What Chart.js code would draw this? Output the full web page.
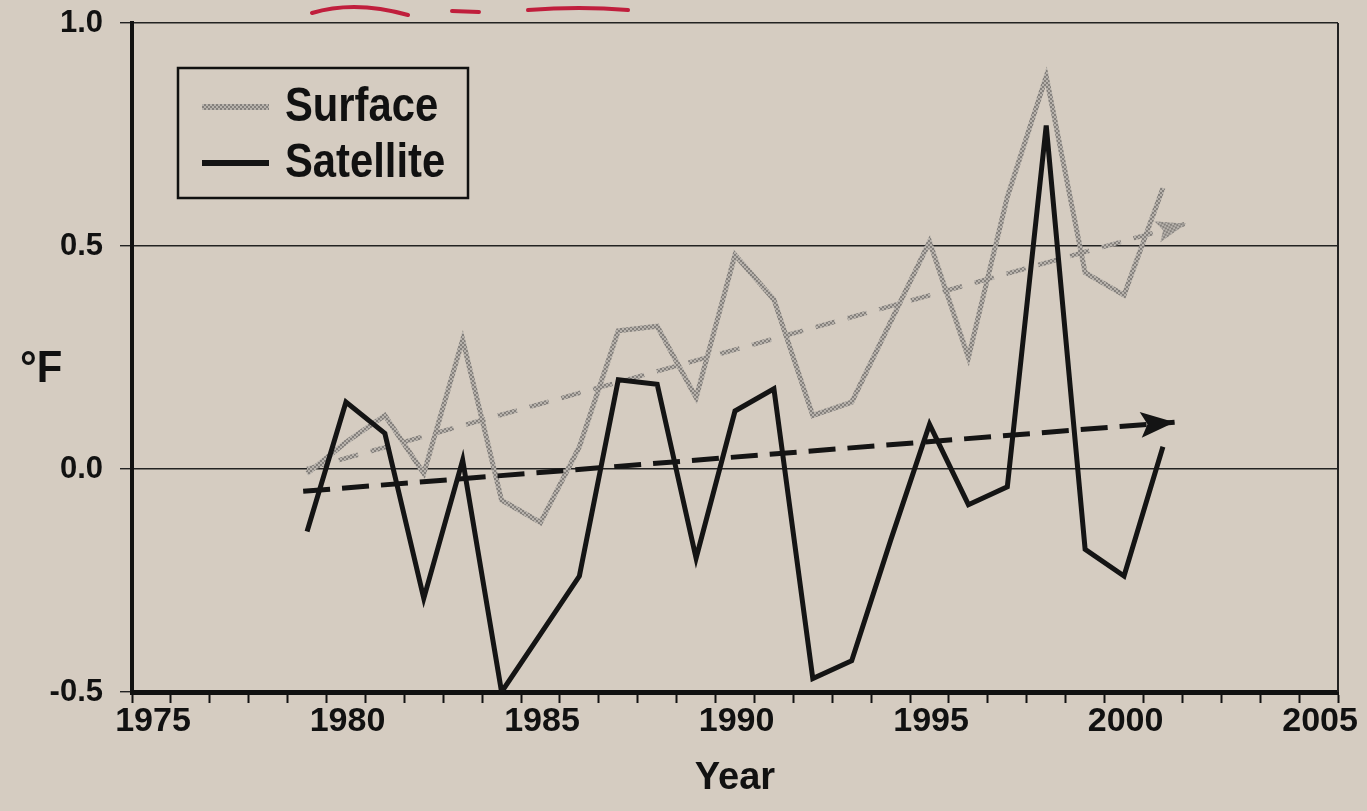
<!DOCTYPE html>
<html>
<head>
<meta charset="utf-8">
<script src="https://cdn.jsdelivr.net/npm/chart.js@4.4.1/dist/chart.umd.min.js"></script>
<style>
  html, body { margin: 0; padding: 0; background: #d5ccc1; }
  #tempChart { display: block; }
</style>
</head>
<body>
<canvas id="tempChart" width="1367" height="811"></canvas>
<script>
// data
const years = [1979, 1980, 1981, 1982, 1983, 1984, 1985, 1986, 1987, 1988, 1989, 1990,
               1991, 1992, 1993, 1994, 1995, 1996, 1997, 1998, 1999, 2000, 2001];
const surface = [-0.01, 0.06, 0.12, -0.01, 0.29, -0.07, -0.12, 0.05, 0.31, 0.32, 0.16, 0.48,
                 0.38, 0.12, 0.15, 0.33, 0.51, 0.25, 0.61, 0.88, 0.44, 0.39, 0.63];
const satellite = [-0.14, 0.15, 0.08, -0.29, 0.02, -0.50, -0.37, -0.24, 0.20, 0.19, -0.20, 0.13,
                   0.18, -0.47, -0.43, -0.16, 0.10, -0.08, -0.04, 0.77, -0.18, -0.24, 0.05];
const surfaceTrendX = [1979, 2001.6];
const surfaceTrendY = [0.0, 0.55];
const satelliteTrendX = [1978.9, 2001.3];
const satelliteTrendY = [-0.05, 0.105];
const yTicks = [-0.5, 0, 0.5, 1.0];
const xLabels = [1975, 1980, 1985, 1990, 1995, 2000, 2005];

const FONT = "'Liberation Sans', Arial, sans-serif";

const canvas = document.getElementById('tempChart');
const ctx = canvas.getContext('2d');

// speckled grey like the printed line
function greyPattern() {
    const c = document.createElement('canvas');
    c.width = 4; c.height = 4;
    const g = c.getContext('2d');
    g.fillStyle = '#b8b3ad';
    g.fillRect(0, 0, 4, 4);
    g.fillStyle = '#85817d';
    g.fillRect(0, 0, 2, 2);
    g.fillRect(2, 2, 2, 2);
    return ctx.createPattern(c, 'repeat');
}
const grey = greyPattern();

const pairs = (xs, ys) => xs.map((x, i) => ({ x: x, y: ys[i] }));

// condensed-looking text: squeeze horizontally
function squeezedText(c, text, x, y, sx) {
    c.save();
    c.translate(x, y);
    c.scale(sx, 1);
    c.fillText(text, 0, 0);
    c.restore();
}

// arrow heads on trend lines
const arrowPlugin = {
    id: 'arrows',
    afterDatasetsDraw(chart) {
        const c = chart.ctx;
        chart.data.datasets.forEach((ds, i) => {
            if (!ds.arrow) return;
            const pts = chart.getDatasetMeta(i).data;
            const a = pts[pts.length - 2], b = pts[pts.length - 1];
            const ang = Math.atan2(b.y - a.y, b.x - a.x);
            c.save();
            c.translate(b.x, b.y);
            c.rotate(ang);
            c.beginPath();
            c.moveTo(0, 0);
            c.lineTo(-ds.arrow.len, -ds.arrow.half);
            c.lineTo(-ds.arrow.len * 0.8, 0);
            c.lineTo(-ds.arrow.len, ds.arrow.half);
            c.closePath();
            c.fillStyle = ds.arrow.color;
            c.fill();
            c.restore();
        });
    }
};

// frame, legend box, axis unit, pen marks
const decorPlugin = {
    id: 'decor',
    afterDraw(chart) {
        const c = chart.ctx;
        const area = chart.chartArea;
        c.save();
        // right border
        c.strokeStyle = '#222';
        c.lineWidth = 2;
        c.beginPath();
        c.moveTo(area.right, area.top);
        c.lineTo(area.right, area.bottom);
        c.stroke();

        // legend
        const lx = area.left + 46, ly = area.top + 45;
        c.lineWidth = 2.5;
        c.strokeStyle = '#111';
        c.strokeRect(lx, ly, 290, 130);
        const items = [chart.data.datasets[3], chart.data.datasets[0]];
        c.font = 'bold 48px ' + FONT;
        c.textBaseline = 'middle';
        items.forEach((ds, k) => {
            const yy = ly + 39 + k * 56;
            c.strokeStyle = ds.borderColor;
            c.lineWidth = 6;
            c.beginPath();
            c.moveTo(lx + 24, yy);
            c.lineTo(lx + 91, yy);
            c.stroke();
            c.fillStyle = '#111';
            squeezedText(c, ds.label, lx + 107, yy + 1, 0.87);
        });

        // unit label
        c.font = 'bold 44px ' + FONT;
        c.fillStyle = '#111';
        squeezedText(c, '°F', area.left - 112, (area.top + area.bottom) / 2 + 12, 0.95);

        // red pen underlines at top
        c.strokeStyle = '#c01e3c';
        c.lineWidth = 4;
        c.lineCap = 'round';
        c.beginPath();
        c.moveTo(312, 13); c.quadraticCurveTo(355, 0, 408, 15);
        c.moveTo(452, 11); c.lineTo(479, 12);
        c.moveTo(528, 10); c.quadraticCurveTo(580, 6, 628, 10);
        c.stroke();
        c.restore();
    }
};

new Chart(ctx, {
    type: 'line',
    data: {
        datasets: [
            {
                label: 'Satellite',
                data: pairs(years, satellite),
                borderColor: '#141414',
                borderWidth: 5,
                pointRadius: 0,
                order: 0
            },
            {
                label: 'Satellite trend',
                data: pairs(satelliteTrendX, satelliteTrendY),
                borderColor: '#141414',
                borderWidth: 5,
                borderDash: [27, 12],
                pointRadius: 0,
                order: 1,
                arrow: { len: 34, half: 13, color: '#141414' }
            },
            {
                label: 'Surface trend',
                data: pairs(surfaceTrendX, surfaceTrendY),
                borderColor: grey,
                borderWidth: 4.5,
                borderDash: [20, 13],
                pointRadius: 0,
                order: 3,
                arrow: { len: 30, half: 11, color: grey }
            },
            {
                label: 'Surface',
                data: pairs(years, surface),
                borderColor: grey,
                borderWidth: 5,
                pointRadius: 0,
                order: 2
            }
        ]
    },
    options: {
        responsive: false,
        animation: false,
        devicePixelRatio: 1,
        layout: { padding: { left: 0, right: 29, top: 23, bottom: 0 } },
        plugins: {
            legend: { display: false },
            tooltip: { enabled: false }
        },
        scales: {
            x: {
                type: 'linear',
                min: 1974.5,
                max: 2005.5,
                afterBuildTicks: (scale) => {
                    const t = [];
                    for (let v = 1974.5; v <= 2005.5; v += 1) t.push({ value: v });
                    scale.ticks = t;
                },
                afterFit: (scale) => {
                    scale.height = 119;
                    scale.paddingLeft = 0;
                    scale.paddingRight = 0;
                },
                ticks: {
                    autoSkip: false,
                    maxRotation: 0,
                    labelOffset: 21,
                    padding: -2,
                    color: '#111',
                    font: { family: FONT, size: 34, weight: 'bold' },
                    callback: (v) => {
                        const yr = Math.round(v + 0.5);
                        return xLabels.includes(yr) ? String(yr) : '';
                    }
                },
                grid: {
                    drawOnChartArea: false,
                    drawTicks: true,
                    tickLength: 11,
                    tickColor: '#111',
                    tickWidth: 2
                },
                border: { color: '#111', width: 5 },
                title: {
                    display: true,
                    text: 'Year',
                    color: '#111',
                    font: { family: FONT, size: 38, weight: 'bold' },
                    padding: { top: 0, bottom: 10 }
                }
            },
            y: {
                min: -0.5,
                max: 1.0,
                afterBuildTicks: (scale) => {
                    scale.ticks = yTicks.map(v => ({ value: v }));
                },
                afterFit: (scale) => {
                    scale.width = 132;
                    scale.paddingTop = 0;
                    scale.paddingBottom = 0;
                },
                ticks: {
                    padding: 17,
                    color: '#111',
                    font: { family: FONT, size: 31, weight: 'bold' },
                    callback: (v) => v.toFixed(1)
                },
                grid: {
                    color: '#222',
                    lineWidth: 1.4,
                    drawTicks: true,
                    tickLength: 12
                },
                border: { color: '#111', width: 4 }
            }
        }
    },
    plugins: [arrowPlugin, decorPlugin]
});
</script>
</body>
</html>
